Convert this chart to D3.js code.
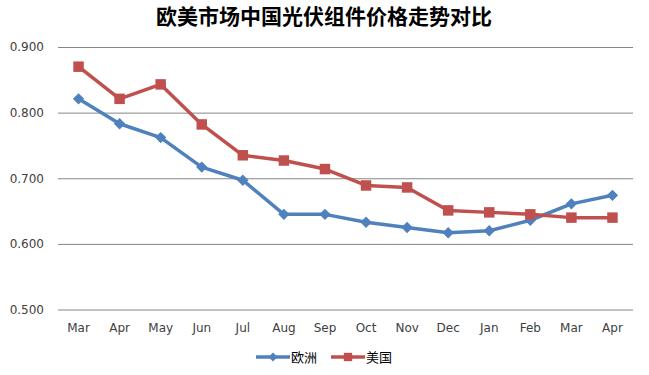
<!DOCTYPE html>
<html><head><meta charset="utf-8">
<script src="https://cdn.jsdelivr.net/npm/d3@7/dist/d3.min.js"></script>
<style>body{margin:0;background:#fff}svg{display:block}</style>
</head><body>
<svg id="c" width="649" height="375"></svg>
<script>
const categories = ["Mar","Apr","May","Jun","Jul","Aug","Sep","Oct","Nov","Dec","Jan","Feb","Mar","Apr"];
const europe = [0.821,0.783,0.762,0.717,0.697,0.645,0.645,0.633,0.625,0.617,0.620,0.636,0.661,0.674];
const usa = [0.870,0.821,0.843,0.782,0.735,0.727,0.714,0.689,0.686,0.651,0.648,0.645,0.640,0.640];
const yTicks = [0.5,0.6,0.7,0.8,0.9];
const seriesNames = ["欧洲","美国"];
const title = "欧美市场中国光伏组件价格走势对比";

const svg = d3.select("#c");
const L = 58, R = 633, T = 47, B = 309.5;
const x = d3.scaleBand().domain(d3.range(categories.length)).range([L, R]);
const y = d3.scaleLinear().domain([0.5, 0.9]).range([B, T]);
const font = "'DejaVu Sans', sans-serif";

svg.append("text").attr("x", 324).attr("y", 24).attr("text-anchor","middle")
  .attr("font-family","'Noto Sans CJK SC', sans-serif").attr("font-weight","bold")
  .attr("font-size", 21).attr("fill","#000").text(title);

const ya = svg.append("g").attr("transform", `translate(${L},0)`)
  .call(d3.axisLeft(y).tickValues(yTicks).tickSize(-(R-L)).tickPadding(14).tickFormat(d3.format(".3f")));
ya.select(".domain").remove();
ya.selectAll("line").attr("stroke","#868686").attr("stroke-width",1);
ya.selectAll("text").attr("font-family",font).attr("font-size",12).attr("fill","#404040");

const xa = svg.append("g").attr("transform", `translate(0,${B})`)
  .call(d3.axisBottom(x).tickSize(0).tickPadding(14).tickFormat(i => categories[i]));
xa.select(".domain").remove();
xa.selectAll("text").attr("font-family",font).attr("font-size",12).attr("fill","#404040");

const cx = i => x(i) + x.bandwidth()/2;
const line = d3.line().x((d,i)=>cx(i)).y(d=>y(d));
const colors = ["#4F81BD","#C0504D"];
const data = [europe, usa];
const rot = [45, 0];
const sizes = [64, 110];

data.forEach((s, k) => {
  svg.append("path").datum(s).attr("d", line).attr("fill","none")
    .attr("stroke", colors[k]).attr("stroke-width", 3.5).attr("stroke-linejoin","round");
});
data.forEach((s, k) => {
  svg.selectAll(null).data(s).enter().append("path")
    .attr("transform",(d,i)=>`translate(${cx(i)},${y(d)}) rotate(${rot[k]})`)
    .attr("d", d3.symbol().type(d3.symbolSquare).size(sizes[k]))
    .attr("fill", colors[k]);
});

// legend
const lg = [{x0:256, tx:291},{x0:331, tx:366}];
seriesNames.forEach((n,k)=>{
  const g = svg.append("g");
  g.append("line").attr("x1",lg[k].x0).attr("x2",lg[k].x0+34).attr("y1",357).attr("y2",357)
    .attr("stroke",colors[k]).attr("stroke-width",3.5);
  g.append("path").attr("transform",`translate(${lg[k].x0+17},357) rotate(${rot[k]})`)
    .attr("d", d3.symbol().type(d3.symbolSquare).size(k?70:40)).attr("fill",colors[k]);
  g.append("text").attr("x",lg[k].tx).attr("y",362).attr("font-family","'Noto Sans CJK SC', sans-serif")
    .attr("font-size",13).attr("fill","#000").text(n);
});
</script>
</body></html>
